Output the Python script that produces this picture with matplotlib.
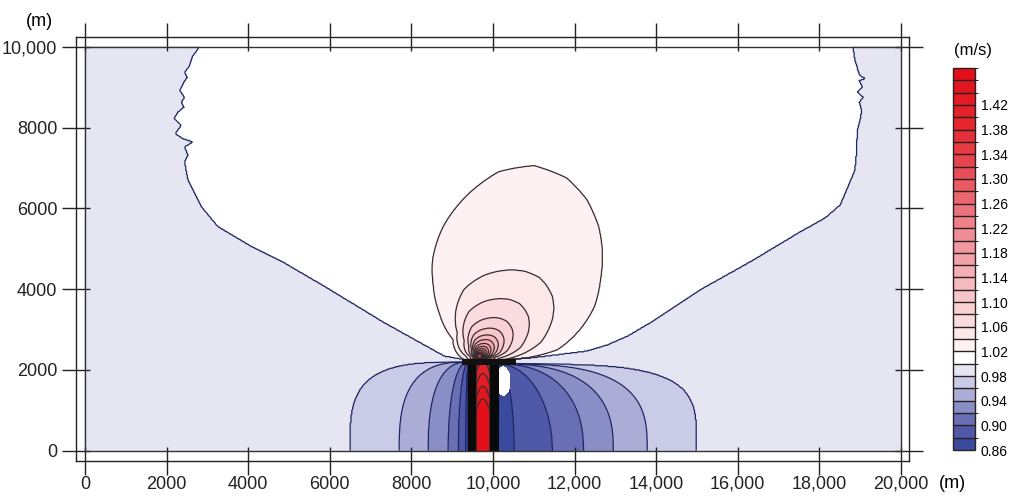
import numpy as np
import matplotlib
matplotlib.use("Agg")
import matplotlib.pyplot as plt
from matplotlib.path import Path
from matplotlib.colors import ListedColormap, BoundaryNorm, LinearSegmentedColormap, to_hex
from matplotlib.patches import Rectangle
import matplotlib.colorbar as mcolorbar

plt.rcParams['font.family'] = ['Liberation Sans', 'DejaVu Sans']

# contour levels (m/s) and colour bar labels
levels = [0.86, 0.88, 0.90, 0.92, 0.94, 0.96, 0.98, 1.00, 1.02, 1.04, 1.06,
          1.08, 1.10, 1.12, 1.14, 1.16, 1.18, 1.20, 1.22, 1.24, 1.26, 1.28,
          1.30, 1.32, 1.34, 1.36, 1.38, 1.40, 1.42, 1.44, 1.46, 1.48]
cbar_ticks = [0.86, 0.90, 0.94, 0.98, 1.02, 1.06, 1.10, 1.14, 1.18, 1.22,
              1.26, 1.30, 1.34, 1.38, 1.42]

x_ticks = [0, 2000, 4000, 6000, 8000, 10000, 12000, 14000, 16000, 18000, 20000]
x_ticklabels = ['0', '2000', '4000', '6000', '8000', '10,000', '12,000',
                '14,000', '16,000', '18,000', '20,000']
y_ticks = [0, 2000, 4000, 6000, 8000, 10000]
y_ticklabels = ['0', '2000', '4000', '6000', '8000', '10,000']

# 1.00 m/s line (edge of the white zone), left branch from top down to the apex
v_left_x = [2800, 2769, 2646, 2564, 2441, 2507, 2401, 2319, 2441, 2360, 2426,
            2280, 2182, 2360, 2214, 2401, 2646, 2441, 2524, 2441, 2524, 2850,
            3258, 4073, 4887, 5866, 7333, 8801, 9330]
v_left_y = [10000, 9943, 9778, 9532, 9367, 9244, 9080, 8916, 8751, 8628, 8505,
            8382, 8218, 8054, 7849, 7726, 7644, 7520, 7315, 7151, 6700, 6042,
            5549, 5057, 4648, 4071, 3170, 2347, 2250]
# right branch from the apex up to the top
v_right_x = [9330, 10000, 10840, 11600, 12300, 12800, 13300, 13857, 15090,
             16310, 17530, 18140, 18510, 18870, 18912, 18927, 18993, 19034,
             18975, 19074, 18927, 19058, 18975, 19115, 18990, 18870, 18820]
v_right_y = [2250, 2235, 2290, 2380, 2470, 2620, 2840, 3170, 3990, 4680, 5419,
             5763, 6084, 6946, 7438, 7931, 8177, 8423, 8628, 8751, 8875, 8998,
             9162, 9212, 9286, 9655, 10000]

# speed-up bulb: 1.02 and 1.04 m/s contours in polar form about the source
bulb_src = (9650, 2300)
bulb_ang_out = [-90, -45, -11, 0.4, 6, 16, 24, 33, 41.5, 48, 56, 64, 74, 84,
                94, 105, 115, 122, 131, 144, 189, 230, 270]
bulb_rad_out = [100, 200, 382, 1190, 1937, 2588, 3097, 3554, 4038, 4383, 4727,
                4942, 4943, 4624, 4033, 3358, 2668, 2090, 1464, 775, 324, 150, 100]
bulb_ang_in = [-90, -45, -11, 2.8, 14, 27.8, 34, 40.3, 47, 53.1, 62, 70, 78,
               86.3, 102, 116.8, 130, 171.6, 230, 270]
bulb_rad_in = [50, 100, 250, 947, 1562, 2038, 2220, 2361, 2440, 2480, 2420,
               2310, 2180, 2040, 1728, 1250, 814, 322, 80, 50]
# size of the inner contours relative to the 1.04 contour
bulb_scale = [0.026, 0.039, 0.052, 0.065, 0.083, 0.104, 0.13, 0.163, 0.207,
              0.26, 0.337, 0.457, 0.674, 1.0]
bulb_level = [1.30, 1.28, 1.26, 1.24, 1.22, 1.20, 1.18, 1.16, 1.14, 1.12,
              1.10, 1.08, 1.06, 1.04]

# slow-down lobes: foot of each contour (y = 0) measured from the wall face
lobe_level = [0.88, 0.90, 0.92, 0.94, 0.96, 0.98]
lobe_left_dist = [60, 245, 490, 980, 1690, 2905]
lobe_left_pow = [2.0, 2.0, 2.2, 2.5, 2.8, 3.5]
lobe_right_dist = [380, 1320, 2080, 2810, 3640, 4860]
lobe_right_pow = [2.0, 2.0, 2.3, 2.6, 3.0, 4.0]
lobe_left_top = 2200
lobe_right_top = 2150

# walls, cap and the fast channel between the walls
wall_left = [9390, 9585]
wall_right = [9920, 10140]
cap_x = [9250, 10560]
cap_y = [2110, 2260]
channel_top = 2230
channel_y = [0, 1200, 2230, 2800]
channel_v = [1.47, 1.465, 1.40, 1.32]

# blank patch behind the right wall
patch_c = (10250, 1720)
patch_r = (185, 370)

# ---- field ----
xs = np.linspace(0, 20000, 1001)
ys = np.linspace(0, 10000, 501)
X, Y = np.meshgrid(xs, ys)

verts = list(zip(v_left_x, v_left_y)) + list(zip(v_right_x[1:], v_right_y[1:]))
verts += [(v_right_x[-1], 10600), (v_left_x[0], 10600)]
inV = Path(verts).contains_points(np.c_[X.ravel(), Y.ravel()]).reshape(X.shape)

dx = X - bulb_src[0]
dy = Y - bulb_src[1]
r = np.hypot(dx, dy)
phi = np.degrees(np.arctan2(dy, dx))
phi = np.where(phi < -90, phi + 360, phi)
Ro = np.interp(phi, bulb_ang_out, bulb_rad_out)
Ri = np.interp(phi, bulb_ang_in, bulb_rad_in)
s_in = r / np.maximum(Ri, 1.0)
rho = np.clip((r - Ri) / np.maximum(Ro - Ri, 1.0), 0, 1)
bulb = np.where(s_in <= 1, np.interp(s_in, bulb_scale, bulb_level), 1.04 - 0.02 * rho)
bulb = np.where(r > Ro, 1.01 + 0.01 * Ro / np.maximum(r, 1.0), bulb)
F = np.where(inV, bulb, 0.99)


def lobe(d, top, dist, pw):
    d = np.clip(d, 0, None)
    yy = np.clip(Y / top, 0, None)
    q = np.stack([((d / a) ** n + yy ** n) ** (1 / n) for a, n in zip(dist, pw)])
    K = len(dist)
    cnt = (q >= 1).sum(axis=0)
    k = np.clip(cnt - 1, 0, K - 2)
    qa = np.take_along_axis(q, k[None], 0)[0]
    qb = np.take_along_axis(q, (k + 1)[None], 0)[0]
    t = np.clip((qa - 1) / np.maximum(qa - qb, 1e-9), 0, 1)
    lv = np.array(lobe_level)
    v = lv[k] + t * (lv[k + 1] - lv[k])
    v = np.where(cnt == 0, 0.86 + 0.02 * np.clip(q[0], 0, 1), v)
    return np.where(cnt >= K, 0.99, v)


mid = 0.5 * (wall_left[1] + wall_right[0])
lobeL = lobe(wall_left[0] - X, lobe_left_top, lobe_left_dist, lobe_left_pow)
lobeR = lobe(X - wall_right[1], lobe_right_top, lobe_right_dist, lobe_right_pow)
F = F + np.minimum(np.where(X < mid, lobeL, lobeR) - 0.99, 0)

xc = 0.5 * (wall_left[1] + wall_right[0])
hw = 0.5 * (wall_right[0] - wall_left[1])
C = np.interp(Y + 300 * np.clip((X - xc) / hw, -1.2, 1.2) ** 2, channel_y, channel_v)
wl = np.clip((X - wall_left[0]) / (wall_left[1] - wall_left[0]), 0, 1)
wr = np.clip((wall_right[1] - X) / (wall_right[1] - wall_right[0]), 0, 1)
wv = np.clip((channel_top + 60 - Y) / 120, 0, 1)
w = np.minimum(wl, wr) * wv
F = F * (1 - w) + C * w
F = np.clip(F, 0.861, 1.479)

blank = ((X - patch_c[0]) / patch_r[0]) ** 2 + ((Y - patch_c[1]) / patch_r[1]) ** 2 < 1
F = np.ma.masked_where(blank, F)

# ---- colours ----
blues = ['#3b4a9e', '#4f59a8', '#686fb5', '#8a8ec7', '#abadd7', '#cacbe6', '#e6e6f3']
red_map = LinearSegmentedColormap.from_list(
    'r', [(0.0, '#fdf1f3'), (0.18, '#f7c6cb'), (0.41, '#ef8c94'),
          (0.64, '#e84d56'), (0.82, '#e5262e'), (1.0, '#e3101a')])
reds = [to_hex(red_map(i / 22)) for i in range(23)]
fill_colors = blues + ['#ffffff'] + reds
line_colors = ['#1e2562' if lv <= 1.0 else '#3a2c2e' for lv in levels[1:-1]]

fig = plt.figure(figsize=(10.13, 4.96), dpi=100)
ax = fig.add_axes([76 / 1013, 1 - 460.7 / 496, 833 / 1013, 424 / 496])
ax.set_facecolor('white')
ax.contourf(X, Y, F, levels=levels, colors=fill_colors)
ax.contour(X, Y, F, levels=levels[1:-1], colors=line_colors, linewidths=0.9)
for wx in (wall_left, wall_right):
    ax.add_patch(Rectangle((wx[0], 0), wx[1] - wx[0], channel_top + 40,
                           facecolor='#0a0a0a', edgecolor='none', zorder=4))
ax.add_patch(Rectangle((cap_x[0], cap_y[0]), cap_x[1] - cap_x[0], cap_y[1] - cap_y[0],
                       facecolor='#111111', edgecolor='none', zorder=4))
ax.add_patch(Rectangle((0, 0), 20000, 10000, fill=False, edgecolor='#333333', lw=1.0, zorder=5))

ax.set_xlim(-220, 20196)
ax.set_ylim(-248, 10248)
ax.set_xticks(x_ticks)
ax.set_xticklabels(x_ticklabels)
ax.set_yticks(y_ticks)
ax.set_yticklabels(y_ticklabels)
ax.tick_params(direction='inout', length=20, width=1, top=True, right=True,
               labelsize=13, colors='#222222')
ax.tick_params(axis='x', pad=1)
for sp in ax.spines.values():
    sp.set_linewidth(1.0)
    sp.set_color('#222222')

fig.text(39 / 1013, 1 - 22 / 496, '(m)', fontsize=13, ha='center', va='center')
fig.text(952 / 1013, 1 - 484 / 496, '(m)', fontsize=13, ha='center', va='center')

cax = fig.add_axes([953 / 1013, 1 - 450 / 496, 22 / 1013, 382 / 496])
cb = mcolorbar.ColorbarBase(cax, cmap=ListedColormap(fill_colors),
                            norm=BoundaryNorm(levels, len(fill_colors)),
                            boundaries=levels, ticks=cbar_ticks, drawedges=True)
cb.dividers.set_color('#2a2020')
cb.dividers.set_linewidth(1.0)
cb.outline.set_linewidth(1.0)
cb.outline.set_edgecolor('#2a2020')
cax.set_yticklabels([f'{t:.2f}' for t in cbar_ticks])
cax.tick_params(length=0, labelsize=10, pad=4)
fig.text(973 / 1013, 1 - 50 / 496, '(m/s)', fontsize=12, ha='center', va='center')

fig.savefig('out.png', dpi=100)
